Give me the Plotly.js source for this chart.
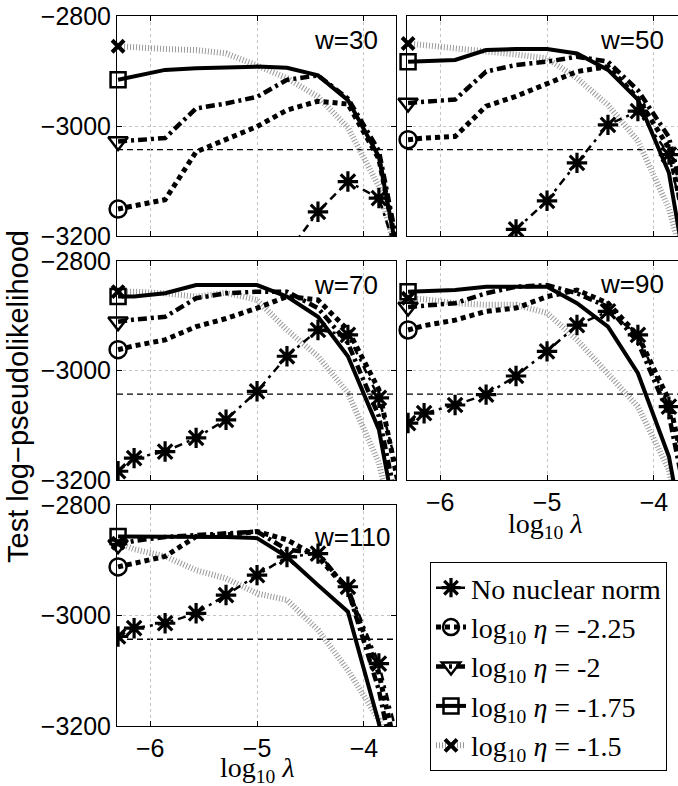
<!DOCTYPE html>
<html>
<head>
<meta charset="utf-8">
<script src="https://cdn.plot.ly/plotly-3.0.1.min.js"></script>
<style>
html, body { margin: 0; padding: 0; overflow: hidden; background: #fff; }
#chart { width: 690px; height: 786px; }
</style>
</head>
<body>
<div id="chart"></div>
<script>
// ---------------- data ----------------
const logLambda = [-6.3, -6.15, -5.86, -5.57, -5.29, -5.0, -4.72, -4.43, -4.15, -3.86, -3.58];
const windowLabels = ['w=30', 'w=50', 'w=70', 'w=90', 'w=110'];
const xTicks = [-6, -5, -4];
const yTicks = [-3200, -3000, -2800];
const baselineValue = -3043;

// one row per panel (w=30, 50, 70, 90, 110)
const noNuclearNorm = [
  [-3600, -3550, -3500, -3450, -3400, -3330, -3232, -3156, -3101, -3131, -3300],
  [-3600, -3500, -3400, -3270, -3188, -3136, -3067, -2998, -2973, -3052, -3300],
  [-3184, -3160, -3148, -3123, -3090, -3038, -2974, -2926, -2935, -3050, -3260],
  [-3096, -3078, -3063, -3044, -3010, -2965, -2917, -2892, -2935, -3066, -3270],
  [-3038, -3023, -3014, -2996, -2963, -2927, -2894, -2888, -2948, -3087, -3300]
];
const etaM225 = [
  [-3151, -3145, -3134, -3047, -3025, -3001, -2971, -2955, -2960, -3060, -3330],
  [-3025, -3022, -3019, -2964, -2946, -2922, -2901, -2892, -2950, -3040, -3300],
  [-2962, -2955, -2944, -2920, -2905, -2886, -2865, -2871, -2926, -3035, -3300],
  [-2926, -2918, -2908, -2892, -2886, -2865, -2853, -2877, -2936, -3054, -3300],
  [-2912, -2905, -2893, -2857, -2854, -2848, -2863, -2894, -2954, -3105, -3350]
];
const etaM2 = [
  [-3028, -3026, -3022, -2968, -2959, -2947, -2916, -2908, -2950, -3045, -3320],
  [-2958, -2956, -2952, -2901, -2889, -2883, -2874, -2883, -2935, -3020, -3250],
  [-2911, -2907, -2902, -2868, -2859, -2856, -2856, -2886, -2950, -3084, -3350],
  [-2884, -2881, -2877, -2859, -2847, -2844, -2859, -2884, -2948, -3081, -3350],
  [-2872, -2865, -2858, -2854, -2851, -2848, -2881, -2887, -2954, -3135, -3400]
];
const etaM175 = [
  [-2916, -2910, -2898, -2895, -2893, -2892, -2894, -2908, -2953, -3056, -3344],
  [-2883, -2882, -2880, -2862, -2860, -2860, -2868, -2898, -2952, -3085, -3400],
  [-2865, -2865, -2859, -2844, -2844, -2844, -2865, -2902, -2974, -3108, -3400],
  [-2856, -2855, -2853, -2847, -2847, -2847, -2877, -2920, -3005, -3157, -3450],
  [-2857, -2857, -2857, -2857, -2858, -2860, -2894, -2945, -2993, -3195, -3500]
];
const etaM15 = [
  [-2855, -2857, -2860, -2862, -2868, -2890, -2913, -2947, -3003, -3110, -3320],
  [-2850, -2853, -2857, -2862, -2870, -2877, -2913, -2962, -3027, -3150, -3350],
  [-2856, -2856, -2859, -2865, -2858, -2871, -2926, -2974, -3041, -3169, -3400],
  [-2868, -2870, -2877, -2880, -2880, -2895, -2944, -3005, -3066, -3181, -3450],
  [-2869, -2880, -2893, -2918, -2933, -2960, -2972, -3026, -3099, -3189, -3400]
];

// ---------------- layout helpers ----------------
const W = 690, H = 786;
const fx = p => p / W;
const fy = p => 1 - p / H;
const colL = [fx(117), fx(396)], colR = [fx(407), fx(686)];
const rows = [[fy(236), fy(16)], [fy(480), fy(261)], [fy(726), fy(505)]];
const panelDomains = [
  {x: colL, y: rows[0]}, {x: colR, y: rows[0]},
  {x: colL, y: rows[1]}, {x: colR, y: rows[1]},
  {x: colL, y: rows[2]}
];
const showXLabels = [false, false, false, true, true];
const showYLabels = [true, false, true, false, true];
const labelPos = [[312, 40], [598, 40], [312, 285], [598, 284], [312, 537]];

const etaSeries = [
  {name: 'log<sub>10</sub> <i>η</i> = -1.5', data: etaM15, rank: 5,
   line: {color: '#999999', width: 6, dash: '1px,2px'}, symbol: 'x-thin-open', msize: 12, mlw: 4},
  {name: 'log<sub>10</sub> <i>η</i> = -1.75', data: etaM175, rank: 4,
   line: {color: '#000', width: 4}, symbol: 'square-open', msize: 15, mlw: 2.5},
  {name: 'log<sub>10</sub> <i>η</i> = -2', data: etaM2, rank: 3,
   line: {color: '#000', width: 4.5, dash: '9px,4px,3px,4px'}, symbol: 'triangle-down-open', msize: 17, mlw: 2.5},
  {name: 'log<sub>10</sub> <i>η</i> = -2.25', data: etaM225, rank: 2,
   line: {color: '#000', width: 5, dash: '5px,4px'}, symbol: 'circle-open', msize: 17, mlw: 2.5}
];

const traces = [];
const layout = {
  width: W, height: H,
  margin: {l: 0, r: 0, t: 0, b: 0},
  paper_bgcolor: '#fff', plot_bgcolor: '#fff',
  showlegend: true,
  legend: {
    x: fx(430), y: fy(562), xanchor: 'left', yanchor: 'top',
    bordercolor: '#000', borderwidth: 1, bgcolor: '#fff',
    font: {family: 'Liberation Serif, serif', size: 28, color: '#000'},
    itemwidth: 30, traceorder: 'normal'
  },
  annotations: [], shapes: []
};

for (let p = 0; p < 5; p++) {
  const k = p === 0 ? '' : String(p + 1);
  const xa = 'x' + k, ya = 'y' + k;
  const axCommon = {
    showline: true, linecolor: '#000', linewidth: 1, mirror: 'ticks',
    ticks: 'inside', ticklen: 5, tickwidth: 1, tickcolor: '#000',
    showgrid: true, gridcolor: '#c4c4c4', griddash: 'dot', gridwidth: 1,
    zeroline: false, fixedrange: true,
    tickfont: {family: 'Liberation Sans, Arial, sans-serif', size: 25, color: '#000'}
  };
  layout['xaxis' + k] = Object.assign({}, axCommon, {
    domain: panelDomains[p].x, anchor: ya, range: [-6.31, -3.70],
    tickmode: 'array', tickvals: xTicks, showticklabels: showXLabels[p]
  });
  layout['yaxis' + k] = Object.assign({}, axCommon, {
    domain: panelDomains[p].y, anchor: xa, range: [-3200, -2800],
    tickmode: 'array', tickvals: yTicks, showticklabels: showYLabels[p]
  });

  // baseline dashed line
  layout.shapes.push({
    type: 'line', xref: xa + ' domain', yref: ya, x0: 0, x1: 1,
    y0: baselineValue, y1: baselineValue, layer: 'below',
    line: {color: '#000', width: 1.3, dash: '6px,4px'}
  });

  // eta series: line + first-point marker
  etaSeries.forEach(s => {
    traces.push({
      type: 'scatter', mode: 'lines', xaxis: xa, yaxis: ya,
      x: logLambda, y: s.data[p], line: s.line, showlegend: false, hoverinfo: 'skip'
    });
  });
  etaSeries.forEach(s => {
    traces.push({
      type: 'scatter', mode: 'lines+markers', xaxis: xa, yaxis: ya,
      x: [logLambda[0]], y: [s.data[p][0]], name: s.name,
      legendrank: s.rank, showlegend: p === 0, cliponaxis: false,
      line: s.line,
      marker: {symbol: s.symbol, size: s.msize, color: '#000',
               line: {color: '#000', width: s.mlw}}
    });
  });
  // no nuclear norm
  traces.push({
    type: 'scatter', mode: 'lines+markers', xaxis: xa, yaxis: ya,
    x: logLambda, y: noNuclearNorm[p], name: 'No nuclear norm',
    legendrank: 1, showlegend: p === 0, cliponaxis: true,
    line: {color: '#000', width: 2.5, dash: '8px,5px,3px,5px'},
    marker: {symbol: 'asterisk-open', size: 17, color: '#000',
             line: {color: '#000', width: 3.2}}
  });

  layout.annotations.push({
    xref: 'paper', yref: 'paper', x: fx(labelPos[p][0]), y: fy(labelPos[p][1]),
    xanchor: 'left', yanchor: 'middle', showarrow: false, text: windowLabels[p],
    font: {family: 'Liberation Sans, Arial, sans-serif', size: 26, color: '#000'}
  });
}

// axis titles
layout.annotations.push({
  xref: 'paper', yref: 'paper', x: fx(18), y: fy(397), xanchor: 'center', yanchor: 'middle',
  textangle: -90, showarrow: false, text: 'Test log\u2212pseudolikelihood',
  font: {family: 'Liberation Sans, Arial, sans-serif', size: 29, color: '#000'}
});
[[545, 525], [257, 769]].forEach(pos => {
  layout.annotations.push({
    xref: 'paper', yref: 'paper', x: fx(pos[0]), y: fy(pos[1]), xanchor: 'center', yanchor: 'middle',
    showarrow: false, text: 'log<sub>10</sub> <i>λ</i>',
    font: {family: 'Liberation Serif, serif', size: 28, color: '#000'}
  });
});

Plotly.newPlot('chart', traces, layout, {displayModeBar: false, staticPlot: true});
</script>
</body>
</html>
